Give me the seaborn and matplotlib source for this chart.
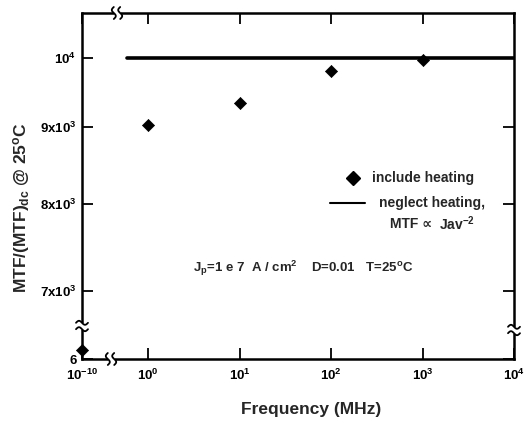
import numpy as np
import matplotlib
matplotlib.use("Agg")
import matplotlib.pyplot as plt
import matplotlib.patches as mpatches
import seaborn as sns
import pandas as pd

# ---------------- data ----------------
freq_mhz = [1e-10, 1, 10, 100, 1000]
mtf_include_heating = [6.08, 9030, 9330, 9800, 9970]
neglect_freq = [0.59, 1e4]
neglect_mtf = [1e4, 1e4]

x_ticks = [1e-10, 1, 10, 100, 1000, 10000]
x_tick_labels = ["$10^{-10}$", "$10^{0}$", "$10^{1}$", "$10^{2}$", "$10^{3}$", "$10^{4}$"]
y_ticks = [6, 7000, 8000, 9000, 10000]
y_tick_labels = ["6", "7x10$^{3}$", "8x10$^{3}$", "9x10$^{3}$", "10$^{4}$"]

# ---------------- style ----------------
sns.set_theme(style="ticks")
plt.rcParams["font.family"] = ["Liberation Sans", "DejaVu Sans"]
plt.rcParams["font.weight"] = "bold"
plt.rcParams["mathtext.fontset"] = "custom"
plt.rcParams["mathtext.rm"] = "Liberation Sans:bold"
plt.rcParams["mathtext.bf"] = "Liberation Sans:bold"
plt.rcParams["mathtext.it"] = "Liberation Sans:bold"
plt.rcParams["mathtext.default"] = "bf"

# broken log scales (piecewise, monotonic)
_xl = np.array([-20.0, -10.0, -9.8, -0.35, 10.0])
_xd = np.array([-10.723, -0.723, -0.523, -0.35, 10.0])
_yl = np.array([-5.0, np.log10(6), np.log10(6) + 0.015, np.log10(6650), 10.0])
_yd = np.array([3.8 - (np.log10(6) + 5), 3.8, 3.815, np.log10(6650), 10.0])


def _lg(v):
    with np.errstate(all="ignore"):
        return np.log10(np.clip(np.asarray(v, dtype=float), 1e-300, None))


def xfwd(v):
    return np.interp(_lg(v), _xl, _xd)


def xinv(d):
    return 10 ** np.interp(np.asarray(d, dtype=float), _xd, _xl)


def yfwd(v):
    return np.interp(_lg(v), _yl, _yd)


def yinv(d):
    return 10 ** np.interp(np.asarray(d, dtype=float), _yd, _yl)


W, H = 525, 428
fig = plt.figure(figsize=(W / 100, H / 100), dpi=100)
L, R, T, B = 82, 514, 13, 359
ax = fig.add_axes([L / W, 1 - B / H, (R - L) / W, (B - T) / H])
AW, AH = R - L, B - T


def fx(px):
    return (px - L) / AW


def fy(py):
    return (B - py) / AH


ax.set_xscale("function", functions=(xfwd, xinv))
ax.set_yscale("function", functions=(yfwd, yinv))

df_pts = pd.DataFrame({"freq": freq_mhz, "mtf": mtf_include_heating})
df_line = pd.DataFrame({"freq": neglect_freq, "mtf": neglect_mtf})

sns.lineplot(data=df_line, x="freq", y="mtf", color="black", linewidth=2.6, ax=ax,
             legend=False, solid_capstyle="round", zorder=3)
sns.scatterplot(data=df_pts, x="freq", y="mtf", marker="D", s=38, color="black",
                edgecolor="black", linewidth=0.5, ax=ax, legend=False, zorder=4,
                clip_on=False)

ax.set_xlim(1e-10, 1e4)
ax.set_ylim(6, 10710)
ax.set_xticks(x_ticks)
ax.set_xticklabels(x_tick_labels)
ax.set_yticks(y_ticks)
ax.set_yticklabels(y_tick_labels)
ax.minorticks_off()
ax.tick_params(axis="both", which="major", direction="in", length=8, width=1.3,
               top=True, right=True, labelsize=9.5, color="black", labelcolor="black")
ax.tick_params(axis="x", pad=6)
ax.tick_params(axis="y", pad=4)
for s in ax.spines.values():
    s.set_linewidth(1.8)
    s.set_color("black")
    s.set_visible(True)

ax.set_xlabel("Frequency (MHz)", fontsize=12.5, fontweight="bold")
ax.set_ylabel("MTF/(MTF)$_{dc}$ @ 25$^{o}$C", fontsize=12.5, fontweight="bold")
ax.xaxis.set_label_coords(fx(311), fy(402))
ax.yaxis.set_label_coords(fx(32), fy(208))


# ---------------- axis-break marks ----------------
def vbreak(xf, yf):
    pw, ph = 7 / AW, 3.5 / AH
    ax.add_patch(mpatches.Rectangle((xf - pw, yf - ph), 2 * pw, 2 * ph, transform=ax.transAxes,
                                    facecolor="white", edgecolor="none", clip_on=False, zorder=6))
    t = np.linspace(0, 1, 40)
    for off in (-3.2, 3.2):
        xs = xf + (-6 + 12 * t) / AW
        ys = yf + (off + 2.0 * np.sin(2 * np.pi * t)) / AH
        ax.plot(xs, ys, color="black", lw=1.3, transform=ax.transAxes, clip_on=False, zorder=7)


def hbreak(xf, yf):
    pw, ph = 3.5 / AW, 7 / AH
    ax.add_patch(mpatches.Rectangle((xf - pw, yf - ph), 2 * pw, 2 * ph, transform=ax.transAxes,
                                    facecolor="white", edgecolor="none", clip_on=False, zorder=6))
    t = np.linspace(0, 1, 40)
    for off in (-3.2, 3.2):
        ys = yf + (-6 + 12 * t) / AH
        xs = xf + (off + 2.0 * np.sin(2 * np.pi * t)) / AW
        ax.plot(xs, ys, color="black", lw=1.3, transform=ax.transAxes, clip_on=False, zorder=7)


vbreak(0.0, fy(326))
vbreak(1.0, fy(330))
hbreak(fx(111), 0.0)
hbreak(fx(117), 1.0)

# ---------------- legend & annotations ----------------
ax.plot([fx(353)], [fy(178)], marker="D", markersize=7, color="black",
        transform=ax.transAxes, clip_on=False)
ax.text(fx(372), fy(178), "include heating", transform=ax.transAxes, fontsize=10,
        fontweight="bold", va="center", ha="left")
ax.plot([fx(330), fx(365)], [fy(203), fy(203)], color="black", lw=1.5,
        transform=ax.transAxes)
ax.text(fx(379), fy(203), "neglect heating,", transform=ax.transAxes, fontsize=10,
        fontweight="bold", va="center", ha="left")
ax.text(fx(390), fy(224), "MTF \u221d", transform=ax.transAxes,
        fontsize=10, fontweight="bold", va="center", ha="left",
        family=["Liberation Sans", "DejaVu Sans"])
ax.text(fx(439), fy(224), "Jav$^{-2}$", transform=ax.transAxes,
        fontsize=10, fontweight="bold", va="center", ha="left")
ax.text(fx(193), fy(268),
        "J$_{p}$=1 e 7  A / cm$^{2}$    D=0.01   T=25$^{o}$C",
        transform=ax.transAxes, fontsize=9.5, fontweight="bold", va="center", ha="left")

fig.savefig("out.png", dpi=100)
